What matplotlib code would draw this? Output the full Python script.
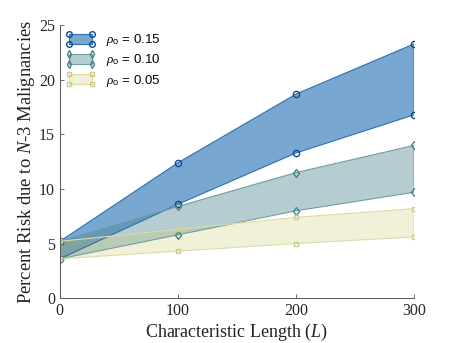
import matplotlib
matplotlib.use("Agg")
import matplotlib.pyplot as plt
from matplotlib.patches import Rectangle, Patch
from matplotlib.lines import Line2D
from matplotlib.legend_handler import HandlerPatch

plt.rcParams['mathtext.fontset'] = 'custom'
plt.rcParams['mathtext.rm'] = 'Liberation Serif'
plt.rcParams['mathtext.it'] = 'Liberation Serif:italic'
plt.rcParams['mathtext.sf'] = 'Liberation Sans'

L = [0, 100, 200, 300]
upper_015 = [5.2, 12.4, 18.7, 23.3]
lower_015 = [3.6, 8.6, 13.3, 16.8]
upper_010 = [5.2, 8.4, 11.5, 14.0]
lower_010 = [3.6, 5.8, 8.0, 9.7]
upper_005 = [5.2, 6.3, 7.4, 8.2]
lower_005 = [3.6, 4.3, 5.0, 5.6]
labels = [r"$\rho_{\mathsf{o}}$ = 0.15", r"$\rho_{\mathsf{o}}$ = 0.10", r"$\rho_{\mathsf{o}}$ = 0.05"]
xticks = [0, 100, 200, 300]
yticks = [0, 5, 10, 15, 20, 25]

series = [
    (upper_015, lower_015, (30/255, 110/255, 180/255), 0.6, '#2f6fae', '#0d4c94', 'o', 4.5),
    (upper_010, lower_010, (70/255, 130/255, 140/255), 0.4, '#6c9fa0', '#4a8585', 'd', 4.5),
    (upper_005, lower_005, (200/255, 200/255, 100/255), 0.25, '#dcdca8', '#cdcd90', 's', 3.5),
]

fig = plt.figure(figsize=(4.57, 3.43), dpi=100)
ax = fig.add_axes([0.131, 0.131, 0.775, 0.795])

handles = []
for (up, lo, fc, a, ec, mc, mk, ms), lab in zip(series, labels):
    xs = L + L[::-1]
    ys = lo + up[::-1]
    ax.fill(xs, ys, facecolor=fc, alpha=a, edgecolor='none')
    ax.plot(xs + [xs[0]], ys + [ys[0]], color=ec, lw=0.8)
    ax.plot(L, up, ls='none', marker=mk, ms=ms, mfc='none', mec=mc, mew=1.0)
    ax.plot(L, lo, ls='none', marker=mk, ms=ms, mfc='none', mec=mc, mew=1.0)
    h = Patch(facecolor=fc, edgecolor=ec, label=lab)
    h._extra = (fc, a, ec, mc, mk, ms)
    handles.append(h)


class CornerHandler(HandlerPatch):
    def create_artists(self, legend, orig_handle, xdescent, ydescent, width, height, fontsize, trans):
        fc, a, ec, mc, mk, ms = orig_handle._extra
        x0, y0 = -xdescent, -ydescent
        r = Rectangle((x0, y0), width, height, facecolor=fc, alpha=a, edgecolor='none', transform=trans)
        r2 = Rectangle((x0, y0), width, height, facecolor='none', edgecolor=ec, lw=0.8, transform=trans)
        ln = Line2D([x0, x0 + width, x0, x0 + width], [y0, y0, y0 + height, y0 + height], ls='none',
                    marker=mk, ms=ms * 0.9, mfc='none', mec=mc, mew=1.0, transform=trans)
        return [r, r2, ln]


leg = ax.legend(handles=handles, handler_map={Patch: CornerHandler()}, loc='upper left',
                frameon=False, prop={'family': 'Liberation Sans', 'size': 9.5},
                handlelength=1.8, handleheight=0.8, borderaxespad=0, borderpad=0, labelspacing=0.32,
                handletextpad=1.05, bbox_to_anchor=(0.025, 0.975))

ax.set_xlim(0, 300)
ax.set_ylim(0, 25)
ax.set_xticks(xticks)
ax.set_yticks(yticks)
ax.spines['top'].set_visible(False)
ax.spines['right'].set_visible(False)
for s in ['left', 'bottom']:
    ax.spines[s].set_color('#555555')
    ax.spines[s].set_linewidth(0.7)
ax.tick_params(direction='in', length=3, width=0.6, color='#555555', labelsize=11.5, labelcolor='#262626')
for t in ax.get_xticklabels() + ax.get_yticklabels():
    t.set_fontfamily('Liberation Serif')

ax.set_xlabel(r"Characteristic Length ($L$)", fontfamily='Liberation Serif', fontsize=13, color='#222222', labelpad=2)
ax.set_ylabel(r"Percent Risk due to $N$-$\mathit{3}$ Malignancies", fontfamily='Liberation Serif', fontsize=13.4,
              color='#222222', labelpad=1.5)

fig.savefig("out.png", dpi=100)
